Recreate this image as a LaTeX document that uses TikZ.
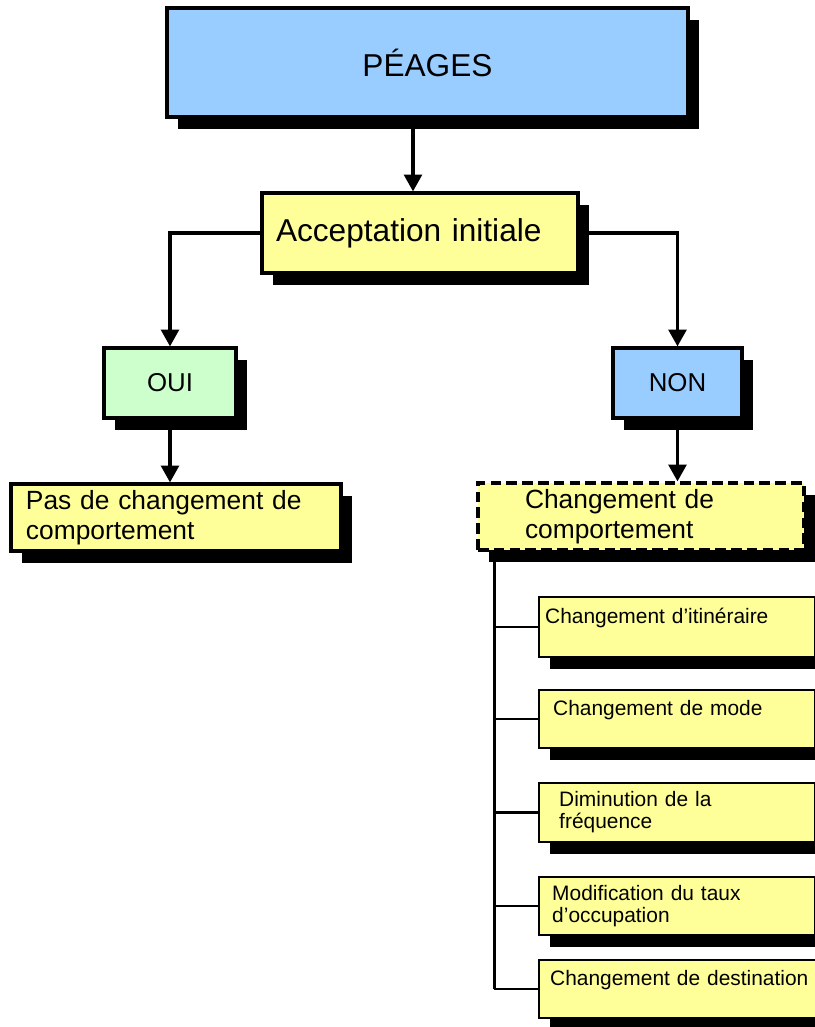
\documentclass[tikz,border=0pt]{standalone}
\usepackage{fontspec}
\setmainfont{Liberation Sans}
\usetikzlibrary{arrows.meta,shadows,positioning}
\definecolor{skyblue}{HTML}{99CCFF}
\definecolor{paleyellow}{HTML}{FFFF99}
\definecolor{palegreen}{HTML}{CCFFCC}
\tikzset{%
  box/.style={draw, rectangle, line width=1.8pt, inner sep=0pt,
    drop shadow={shadow xshift=6pt, shadow yshift=-7pt, fill=black, opacity=1}},
  small box/.style={box, line width=1.4pt, fill=paleyellow, anchor=west,
    minimum width=5.52cm, align=left, font=\fontsize{11.9}{12.6}\selectfont},
  link/.style={line width=2pt},
  arrow/.style={link, -{Triangle[width=10pt,length=9.5pt]}}
}

\begin{document}
\begin{tikzpicture}
      \useasboundingbox (0, 0) rectangle (16.3, -20.54);

      \node[box, fill=skyblue, minimum width=10.42cm, minimum height=2.18cm,
        font=\fontsize{18}{21.6}\selectfont] (peages) at (8.55, -1.25) {PÉAGES};
      \node[box, fill=paleyellow, minimum height=1.60cm, text width=5.76cm, inner xsep=0.28cm,
        align=left, font=\fontsize{18}{21.6}\selectfont] (accept) at (8.40, -4.66) {Acceptation initiale};

      \node[box, fill=palegreen, minimum width=2.64cm, minimum height=1.40cm,
        font=\fontsize{14.7}{17}\selectfont] (oui) at (3.40, -7.66) {OUI};
      \node[box, fill=skyblue, minimum width=2.58cm, minimum height=1.40cm,
        font=\fontsize{14.7}{17}\selectfont] (non) at (13.55, -7.66) {NON};

      \node[box, fill=paleyellow, minimum height=1.34cm, text width=6.0cm, inner xsep=0.3cm,
        align=left, font=\fontsize{15}{17}\selectfont] (pas) at (3.52, -10.35)
        {Pas de changement de\\comportement};
      \node[box, fill=paleyellow, dashed, dash pattern=on 6pt off 3pt, minimum height=1.34cm,
        text width=4.64cm, inner xsep=0.94cm, align=left, font=\fontsize{15}{17}\selectfont]
        (comp) at (12.82, -10.33) {Changement de\\comportement};

      % les cinq changements
      \node[small box, minimum height=1.20cm, text width=5.28cm, inner xsep=0.12cm] (sub1)
        at (10.76, -12.54) {Changement d’itinéraire\\\mbox{}};
      \node[small box, minimum height=1.16cm, text width=4.96cm, inner xsep=0.28cm] (sub2)
        at (10.76, -14.38) {Changement de mode\\\mbox{}};
      \node[small box, minimum height=1.18cm, text width=4.72cm, inner xsep=0.40cm] (sub3)
        at (10.76, -16.25) {Diminution de la\\fréquence};
      \node[small box, minimum height=1.16cm, text width=5.00cm, inner xsep=0.26cm] (sub4)
        at (10.76, -18.12) {Modification du taux\\d’occupation};
      \node[small box, minimum height=1.16cm, text width=5.20cm, inner xsep=0.22cm] (sub5)
        at (10.76, -19.78) {Changement de destination\\\mbox{}};

      \draw[arrow] ([xshift=-0.14cm]accept.north |- peages.south) -- ([xshift=-0.14cm]accept.north);
      \draw[arrow] (accept.west) -| (oui.north);
      \draw[arrow] (accept.east) -| (non.north);
      \draw[arrow] (oui.south) -- (oui.south |- pas.north);
      \draw[arrow] (non.south) -- (non.south |- comp.north);

      \coordinate (trunk) at ([xshift=0.36cm]comp.south west);
      \draw[link] (trunk) -- (trunk |- sub5.west);
      \foreach \s/\w in {sub1/1.5pt, sub2/0.8pt, sub3/1.5pt, sub4/1.5pt, sub5/1.5pt}
        \draw[line width=\w] (trunk |- \s.west) -- (\s.west);

\end{tikzpicture}
\end{document}
